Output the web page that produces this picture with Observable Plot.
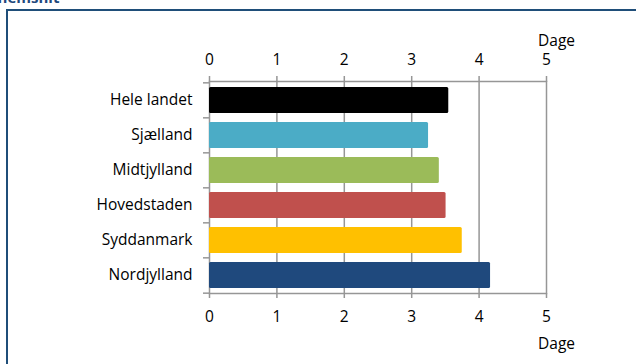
<!DOCTYPE html>
<html>
<head>
<meta charset="utf-8">
<script src="https://cdn.jsdelivr.net/npm/d3@7"></script>
<script src="https://cdn.jsdelivr.net/npm/@observablehq/plot@0.6"></script>
<style>
  html, body { margin: 0; padding: 0; background: #fff; }
  #wrap { position: relative; width: 636px; height: 364px; overflow: hidden; font-family: "Open Sans", sans-serif; }
  #title { position: absolute; left: -32px; top: -13px; font-weight: bold; font-size: 15px; color: #1f497d; white-space: nowrap; }
  #hline { position: absolute; left: 6px; top: 9px; width: 630px; height: 2px; background: #1f4e79; }
  #vline { position: absolute; left: 6px; top: 9px; width: 2px; height: 355px; background: #1f4e79; }
  #chart { position: absolute; left: 0; top: 0; }
</style>
</head>
<body>
<div id="wrap">
  <div id="title">Gennemsnit</div>
  <div id="hline"></div>
  <div id="vline"></div>
  <div id="chart"></div>
</div>
<script>
const regions = ["Hele landet", "Sjælland", "Midtjylland", "Hovedstaden", "Syddanmark", "Nordjylland"];
const days = [3.55, 3.25, 3.41, 3.51, 3.75, 4.17];
const colors = ["#000000", "#4bacc6", "#9bbb59", "#c0504d", "#ffc000", "#1f497d"];
const xTicks = [0, 1, 2, 3, 4, 5];
const unitLabel = "Dage";

const data = regions.map((r, i) => ({region: r, value: days[i], color: colors[i]}));

const W = 636, H = 364, mTop = 81, mBottom = 71, mLeft = 209, mRight = 90;
const step = (H - mTop - mBottom) / regions.length;
const gridColor = "#969696";
const fontSize = 15.5;
const font = "'Open Sans', sans-serif";

const chart = Plot.plot({
  width: W,
  height: H,
  marginTop: mTop,
  marginBottom: mBottom,
  marginLeft: mLeft,
  marginRight: mRight,
  style: {fontFamily: font, fontSize: fontSize + "px", color: "#000", background: "transparent"},
  x: {domain: [0, 5], ticks: xTicks, tickFormat: "d"},
  y: {domain: regions, paddingInner: 0.26, paddingOuter: 0.13},
  marks: [
    Plot.gridX(xTicks.slice(1, -1), {stroke: gridColor, strokeOpacity: 1, strokeWidth: 1.5}),
    Plot.frame({stroke: gridColor, strokeWidth: 1.5}),
    Plot.barX(data, {y: "region", x: "value", fill: "color", rx: 1.5}),
    Plot.axisX({anchor: "top", ticks: xTicks, tickFormat: "d", tickSize: 6, tickPadding: 11, stroke: gridColor, strokeWidth: 1.5, label: null, fontSize: fontSize}),
    Plot.axisX({anchor: "bottom", ticks: xTicks, tickFormat: "d", tickSize: 5, tickPadding: 12, stroke: gridColor, strokeWidth: 1.5, label: null, fontSize: fontSize}),
    Plot.axisY({tickSize: 0, tickPadding: 17, label: null, fontSize: fontSize}),
    Plot.axisY({ticks: regions, tickSize: 6, text: null, label: null, dy: -step / 2, stroke: gridColor, strokeWidth: 1.5}),
    Plot.axisY({ticks: regions.slice(-1), tickSize: 6, text: null, label: null, dy: step / 2, stroke: gridColor, strokeWidth: 1.5}),
    Plot.text([unitLabel], {frameAnchor: "top-right", textAnchor: "middle", lineAnchor: "middle", dx: 10, dy: -40, fontSize: fontSize, fill: "#000"}),
    Plot.text([unitLabel], {frameAnchor: "bottom-right", textAnchor: "middle", lineAnchor: "middle", dx: 10, dy: 51, fontSize: fontSize, fill: "#000"})
  ]
});
document.getElementById("chart").appendChild(chart);
</script>
</body>
</html>
